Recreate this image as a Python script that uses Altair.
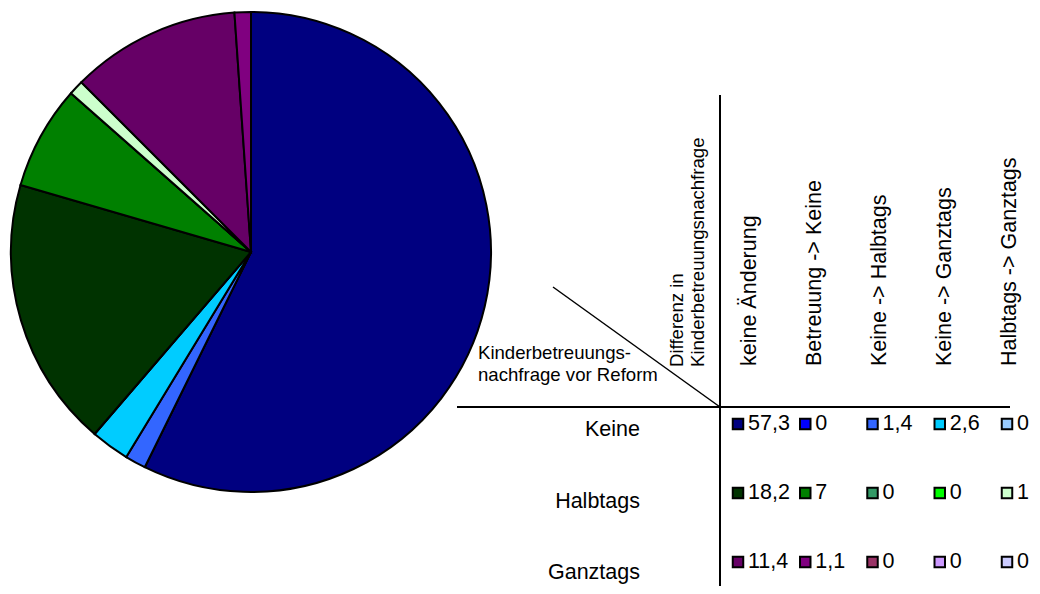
import altair as alt
import pandas as pd

# ---- data ----
rows = ["Keine", "Halbtags", "Ganztags"]
cols = ["keine Änderung", "Betreuung -> Keine", "Keine -> Halbtags",
        "Keine -> Ganztags", "Halbtags -> Ganztags"]
values_keine = [57.3, 0, 1.4, 2.6, 0]
values_halbtags = [18.2, 7, 0, 0, 1]
values_ganztags = [11.4, 1.1, 0, 0, 0]
colors_keine = ["#000080", "#0000FF", "#3366FF", "#00CCFF", "#99CCFF"]
colors_halbtags = ["#003300", "#008000", "#339966", "#00FF00", "#CCFFCC"]
colors_ganztags = ["#660066", "#800080", "#993366", "#CC99FF", "#CCCCFF"]

records = []
idx = 0
for r, vals, cls in zip(rows, [values_keine, values_halbtags, values_ganztags],
                        [colors_keine, colors_halbtags, colors_ganztags]):
    for c, v, col in zip(cols, vals, cls):
        records.append({"idx": idx, "id": f"{r}|{c}", "row": r, "col": c,
                        "value": v, "label": f"{v:g}".replace(".", ","), "color": col})
        idx += 1
df = pd.DataFrame(records)
ids = list(df["id"])
palette = list(df["color"])

FONT = "Liberation Sans"
FS = 21.5
FS_ANN = 18.6
color_scale = alt.Scale(domain=ids, range=palette)

# ---- pie ----
pie = alt.Chart(df).mark_arc(outerRadius=240, stroke="black", strokeWidth=2).encode(
    theta=alt.Theta("value:Q", stack=True),
    order=alt.Order("idx:Q"),
    color=alt.Color("id:N", scale=color_scale, legend=None),
    x=alt.value(243), y=alt.value(244),
)

# ---- legend table cells ----
xcell = alt.X("col:N", scale=alt.Scale(type="point", domain=cols, range=[730, 999], padding=0), axis=None)
ycell = alt.Y("row:N", scale=alt.Scale(type="point", domain=rows, range=[416, 554], padding=0), axis=None)
swatch = alt.Chart(df).mark_square(size=110, stroke="black", strokeWidth=2, opacity=1).encode(
    x=xcell, y=ycell,
    color=alt.Color("id:N", scale=color_scale, legend=None),
)
vals = alt.Chart(df).mark_text(align="left", baseline="middle", dx=10, fontSize=FS,
                               font=FONT, color="black").encode(
    x=xcell, y=ycell, text="label:N")

# ---- column headers ----
hdr_df = pd.DataFrame({"col": cols})
headers = alt.Chart(hdr_df).mark_text(angle=270, align="left", baseline="middle",
                                      fontSize=FS, font=FONT, color="black").encode(
    x=alt.X("col:N", scale=alt.Scale(type="point", domain=cols, range=[742, 1002], padding=0), axis=None),
    y=alt.value(358),
    text="col:N",
)

# ---- row labels ----
row_df = pd.DataFrame({"row": rows})
rowlabels = alt.Chart(row_df).mark_text(align="right", baseline="middle",
                                        fontSize=FS, font=FONT, color="black").encode(
    x=alt.value(632),
    y=alt.Y("row:N", scale=alt.Scale(type="point", domain=rows, range=[422, 565], padding=0), axis=None),
    text="row:N",
)

# ---- table lines ----
one = pd.DataFrame({"a": [0]})
vline = alt.Chart(one).mark_rule(color="black", strokeWidth=2).encode(
    x=alt.value(712), y=alt.value(87), y2=alt.value(582))
hline = alt.Chart(one).mark_rule(color="black", strokeWidth=2).encode(
    x=alt.value(449), x2=alt.value(1002), y=alt.value(399))
diag = alt.Chart(one).mark_rule(color="black", strokeWidth=1.5).encode(
    x=alt.value(545), y=alt.value(279), x2=alt.value(712), y2=alt.value(399))

# ---- corner annotations ----
ann1 = alt.Chart(one).mark_text(align="left", baseline="middle", fontSize=FS_ANN, font=FONT,
                                color="black").encode(
    x=alt.value(470), y=alt.value(345), text=alt.value("Kinderbetreuungs-"))
ann2 = alt.Chart(one).mark_text(align="left", baseline="middle", fontSize=FS_ANN, font=FONT,
                                color="black").encode(
    x=alt.value(470), y=alt.value(367), text=alt.value("nachfrage vor Reform"))
ann3 = alt.Chart(one).mark_text(angle=270, align="left", baseline="middle", fontSize=FS_ANN,
                                font=FONT, color="black").encode(
    x=alt.value(669), y=alt.value(359), text=alt.value("Differenz in"))
ann4 = alt.Chart(one).mark_text(angle=270, align="left", baseline="middle", fontSize=FS_ANN,
                                font=FONT, color="black").encode(
    x=alt.value(690), y=alt.value(359), text=alt.value("Kinderbetreuungsnachfrage"))

chart = alt.layer(pie, swatch, vals, headers, rowlabels, vline, hline, diag,
                  ann1, ann2, ann3, ann4).resolve_scale(
    x="independent", y="independent"
).properties(
    width=1024, height=578, autosize=alt.AutoSizeParams(type="none"), padding=0
).configure_view(stroke=None)

chart.save("out.html", embed_options={"renderer": "svg", "actions": False})
